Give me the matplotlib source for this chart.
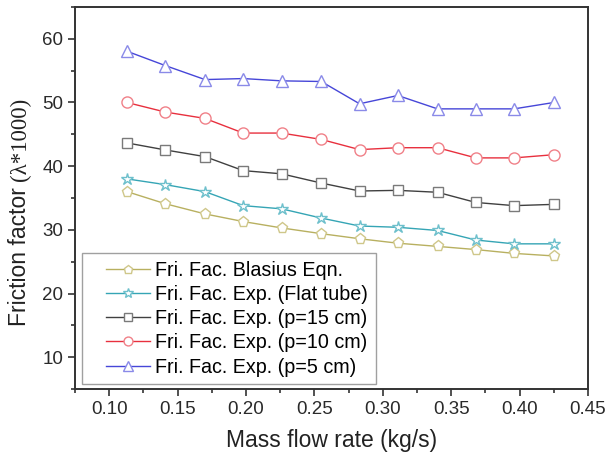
import matplotlib
matplotlib.use("Agg")
import matplotlib.pyplot as plt
from matplotlib.ticker import MultipleLocator
from matplotlib.legend_handler import HandlerLine2D

plt.rcParams['font.family'] = ['Liberation Sans', 'DejaVu Sans']

mass_flow = [0.113, 0.141, 0.170, 0.198, 0.226, 0.255, 0.283, 0.311, 0.340, 0.368, 0.396, 0.425]

blasius = [36.0, 34.1, 32.5, 31.3, 30.3, 29.4, 28.6, 27.9, 27.4, 26.9, 26.3, 25.9]
flat_tube = [38.0, 37.1, 36.0, 33.8, 33.3, 31.85, 30.6, 30.4, 29.9, 28.4, 27.8, 27.8]
p15 = [43.65, 42.55, 41.5, 39.3, 38.8, 37.35, 36.1, 36.2, 35.9, 34.3, 33.8, 34.0]
p10 = [50.0, 48.5, 47.5, 45.2, 45.2, 44.2, 42.6, 42.9, 42.9, 41.3, 41.3, 41.8]
p5 = [58.05, 55.8, 53.6, 53.76, 53.4, 53.3, 49.8, 51.1, 49.0, 49.0, 49.0, 50.0]

labels = ["Fri. Fac. Blasius Eqn.", "Fri. Fac. Exp. (Flat tube)",
          "Fri. Fac. Exp. (p=15 cm)", "Fri. Fac. Exp. (p=10 cm)",
          "Fri. Fac. Exp. (p=5 cm)"]


class ShiftedHandler(HandlerLine2D):
    """Line handler that leaves empty room at the left of the handle box."""
    def __init__(self, shift_frac=0.28, **kw):
        super().__init__(**kw)
        self.shift_frac = shift_frac

    def create_artists(self, legend, orig_handle, xdescent, ydescent,
                       width, height, fontsize, trans):
        shift = width * self.shift_frac
        return super().create_artists(legend, orig_handle, xdescent - shift,
                                      ydescent, width - shift, height,
                                      fontsize, trans)


fig = plt.figure(figsize=(6.06, 4.61), dpi=100)
ax = fig.add_axes([75/606, 1-389/461, (588-75)/606, (389-7)/461])

styles = [
    (blasius, 'p', '#b8b060', '#cfc78a', 8),
    (flat_tube, '*', '#35a5b5', '#6ec0cc', 9),
    (p15, 's', '#404040', '#7a7a7a', 6.5),
    (p10, 'o', '#e8303e', '#f08088', 8),
    (p5, '^', '#4646d8', '#8a8ae8', 8.5),
]
lines = []
for (vals, m, lc, mc, ms), lab in zip(styles, labels):
    ln, = ax.plot(mass_flow, vals, color=lc, lw=1.0, marker=m, markersize=ms,
                  markerfacecolor='white', markeredgecolor=mc, markeredgewidth=1.0,
                  label=lab)
    lines.append(ln)

ax.set_xlim(0.075, 0.45)
ax.set_ylim(5, 65)
ax.xaxis.set_minor_locator(MultipleLocator(0.025))
ax.yaxis.set_minor_locator(MultipleLocator(5))
ax.set_xticks([0.10, 0.15, 0.20, 0.25, 0.30, 0.35, 0.40, 0.45])
ax.set_xticklabels(['0.10', '0.15', '0.20', '0.25', '0.30', '0.35', '0.40', '0.45'])
ax.set_yticks([10, 20, 30, 40, 50, 60])

ax.tick_params(which='major', direction='out', length=5, width=1.2, labelsize=13.5,
               colors='#333333', labelcolor='#2a2a2a')
ax.tick_params(which='minor', direction='out', length=3, width=1.2, colors='#333333')
for s in ax.spines.values():
    s.set_linewidth(1.4)
    s.set_color('#333333')

ax.set_xlabel('Mass flow rate (kg/s)', fontsize=16.5, color='#222222', labelpad=8)

# y label: sans part + serif part
t1 = fig.text(20/606, 0.5, 'Friction factor ', rotation=90, fontsize=16.5,
              color='#222222', ha='left', va='center', rotation_mode='anchor')
t2 = fig.text(20/606, 0.5, '(λ*1000)', rotation=90, fontsize=16.5,
              color='#222222', ha='left', va='center', rotation_mode='anchor',
              family=['Liberation Serif', 'DejaVu Serif'])
fig.canvas.draw()
r = fig.canvas.get_renderer()
h1 = t1.get_window_extent(r).height
h2 = t2.get_window_extent(r).height
total = h1 + h2
center_px = 461 - 212
y0 = center_px - total / 2
t1.set_position((20/606, y0/461))
t2.set_position((20/606, (y0 + h1)/461))

handler = ShiftedHandler(shift_frac=0.27)
leg = ax.legend(handles=lines, loc='lower left', bbox_to_anchor=(0.014, 0.012),
                fontsize=14.2, frameon=True, fancybox=False, edgecolor='#888888',
                borderpad=0.4, labelspacing=0.26, handlelength=3.05,
                handletextpad=0.25, borderaxespad=0.0, markerscale=0.8,
                handler_map={ln: handler for ln in lines})
leg.get_frame().set_linewidth(1.0)

fig.savefig('out.png', dpi=100)
